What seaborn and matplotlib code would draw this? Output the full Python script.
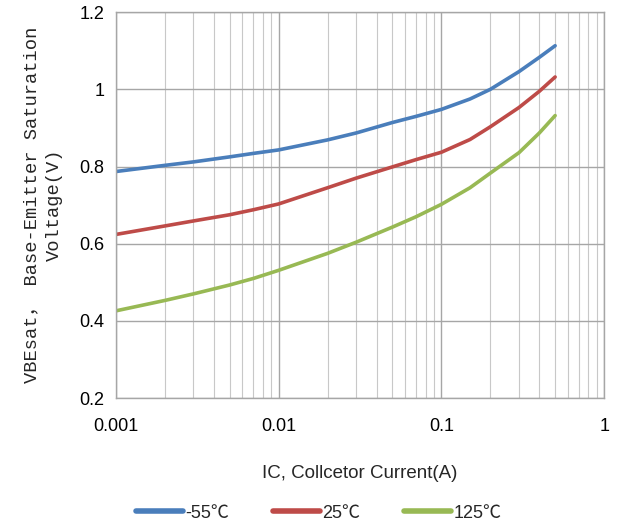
import pandas as pd
import matplotlib
matplotlib.use("Agg")
import matplotlib.pyplot as plt
import matplotlib.ticker as mticker
import seaborn as sns

# collector current (A)
ic = [0.001, 0.002, 0.003, 0.005, 0.007, 0.01, 0.02, 0.03, 0.05, 0.07, 0.1, 0.15, 0.2, 0.3, 0.4, 0.5]

# VBEsat (V) per temperature
vbe_m55 = [0.787, 0.803, 0.812, 0.825, 0.834, 0.843, 0.869, 0.887, 0.914, 0.930, 0.948, 0.975, 1.000, 1.046, 1.083, 1.113]
vbe_25 = [0.624, 0.646, 0.659, 0.675, 0.688, 0.703, 0.745, 0.770, 0.799, 0.818, 0.837, 0.870, 0.903, 0.953, 0.995, 1.032]
vbe_125 = [0.426, 0.453, 0.470, 0.493, 0.510, 0.531, 0.575, 0.604, 0.643, 0.670, 0.702, 0.745, 0.783, 0.836, 0.887, 0.932]

labels = ["-55℃", "25℃", "125℃"]
colors = ["#4A7EBB", "#BE4B48", "#98B954"]

df = pd.concat([
    pd.DataFrame({"IC": ic, "VBE": vbe_m55, "T": labels[0]}),
    pd.DataFrame({"IC": ic, "VBE": vbe_25, "T": labels[1]}),
    pd.DataFrame({"IC": ic, "VBE": vbe_125, "T": labels[2]}),
])

sns.set_style("white")
plt.rcParams["font.family"] = ["Liberation Sans", "Noto Sans CJK SC", "DejaVu Sans"]

fig = plt.figure(figsize=(6.19, 5.28), dpi=100)
ax = fig.add_axes([0.187, 0.246, 0.789, 0.731])

sns.lineplot(data=df, x="IC", y="VBE", hue="T", palette=colors,
             linewidth=2.6, ax=ax, legend=False)

ax.set_xscale("log")
ax.set_xlim(0.001, 1)
ax.set_ylim(0.2, 1.2)
ax.set_yticks([0.2, 0.4, 0.6, 0.8, 1.0, 1.2])
ax.yaxis.set_major_formatter(mticker.FuncFormatter(lambda v, p: f"{v:g}"))
ax.xaxis.set_major_locator(mticker.FixedLocator([0.001, 0.01, 0.1, 1]))
ax.xaxis.set_major_formatter(mticker.FuncFormatter(lambda v, p: f"{v:g}"))
ax.xaxis.set_minor_locator(mticker.LogLocator(base=10, subs=range(2, 10)))
ax.xaxis.set_minor_formatter(mticker.NullFormatter())

ax.grid(True, which="major", axis="both", color="#A6A6A6", linewidth=1.0)
ax.grid(True, which="minor", axis="x", color="#C8C8C8", linewidth=0.8)
ax.set_axisbelow(True)
for s in ax.spines.values():
    s.set_color("#A6A6A6")
    s.set_linewidth(1.0)

ax.tick_params(axis="both", which="both", length=0, labelsize=13, colors="black")
ax.tick_params(axis="x", pad=14)
ax.tick_params(axis="y", pad=8)

ax.set_xlabel("IC, Collcetor Current(A)", fontsize=13.5, labelpad=22)
ax.set_ylabel("VBEsat， Base-Emitter Saturation\nVoltage(V)", fontsize=13.5,
              family=["Liberation Mono", "Noto Sans CJK SC"], linespacing=1.45, labelpad=12)

handles = [plt.Line2D([], [], color=c, linewidth=4, solid_capstyle="round") for c in colors]
fig.legend(handles, labels, loc="center", bbox_to_anchor=(0.515, 0.028), ncol=3,
           frameon=False, handlelength=2.6, handletextpad=0.15,
           columnspacing=2.4, prop={"family": ["Liberation Sans", "Noto Sans CJK SC"], "size": 13})

fig.savefig("out.png", dpi=100)
